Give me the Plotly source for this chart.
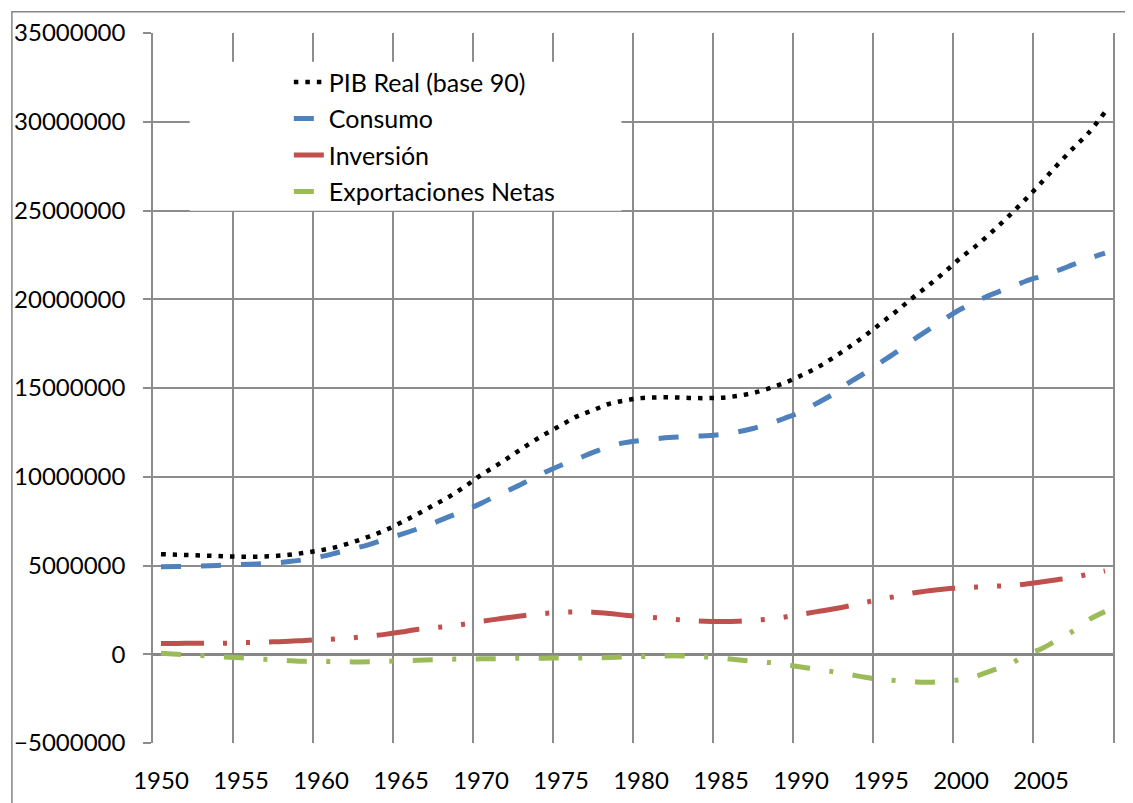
import plotly.graph_objects as go

# years on the category-style x axis
years = list(range(1950, 2010))

# values, in millions
pib_real = [5.64, 5.61, 5.58, 5.55, 5.52, 5.50, 5.50, 5.53, 5.60, 5.72,
            5.86, 6.05, 6.32, 6.63, 6.98, 7.42, 7.88, 8.38, 8.87, 9.45,
            10.10, 10.65, 11.25, 11.85, 12.40, 12.90, 13.40, 13.75, 14.10, 14.30,
            14.43, 14.47, 14.47, 14.44, 14.43, 14.45, 14.55, 14.72, 14.98, 15.30,
            15.70, 16.15, 16.70, 17.30, 17.95, 18.65, 19.35, 20.10, 20.80, 21.55,
            22.35, 23.05, 23.85, 24.70, 25.60, 26.55, 27.55, 28.50, 29.40, 30.55]
consumo = [4.93, 4.94, 4.96, 4.99, 5.02, 5.05, 5.09, 5.14, 5.22, 5.34,
           5.50, 5.72, 5.95, 6.18, 6.48, 6.75, 7.05, 7.38, 7.75, 8.10,
           8.50, 8.95, 9.35, 9.80, 10.25, 10.65, 11.00, 11.37, 11.70, 11.92,
           12.05, 12.15, 12.22, 12.27, 12.31, 12.38, 12.52, 12.72, 12.98, 13.30,
           13.65, 14.15, 14.65, 15.30, 15.85, 16.45, 17.05, 17.70, 18.30, 18.90,
           19.45, 19.90, 20.30, 20.65, 21.00, 21.30, 21.60, 21.95, 22.30, 22.60]
inversion = [0.60, 0.61, 0.62, 0.62, 0.62, 0.65, 0.67, 0.70, 0.73, 0.78,
             0.82, 0.87, 0.93, 1.02, 1.12, 1.25, 1.40, 1.49, 1.58, 1.70,
             1.85, 1.98, 2.10, 2.22, 2.30, 2.36, 2.39, 2.37, 2.30, 2.20,
             2.12, 2.06, 1.97, 1.90, 1.86, 1.85, 1.86, 1.92, 1.98, 2.10,
             2.25, 2.40, 2.55, 2.72, 2.92, 3.10, 3.27, 3.45, 3.58, 3.68,
             3.74, 3.79, 3.83, 3.87, 3.95, 4.07, 4.20, 4.33, 4.52, 4.70]
export_netas = [0.05, 0.00, -0.05, -0.10, -0.15, -0.20, -0.26, -0.31, -0.36, -0.40,
                -0.41, -0.42, -0.43, -0.42, -0.40, -0.37, -0.34, -0.31, -0.28, -0.27,
                -0.26, -0.25, -0.23, -0.23, -0.22, -0.21, -0.21, -0.20, -0.18, -0.15,
                -0.13, -0.10, -0.09, -0.10, -0.15, -0.22, -0.31, -0.40, -0.47, -0.58,
                -0.72, -0.86, -0.98, -1.13, -1.30, -1.42, -1.49, -1.55, -1.58, -1.50,
                -1.43, -1.22, -0.90, -0.60, -0.05, 0.30, 0.80, 1.30, 1.95, 2.40]

series_names = ["PIB Real (base 90)", "Consumo", "Inversión", "Exportaciones Netas"]
x_labels = [str(y) for y in range(1950, 2010, 5)]

FONT = "Lato"
GRID = "#8c8c8c"

styles = [
    dict(color="black", width=4.5, dash="4.5px,7px"),
    dict(color="#4F81BD", width=5, dash="20px,20px"),
    dict(color="#C0504D", width=5, dash="43px,19px,4px,19px,4px,19px"),
    dict(color="#9BBB59", width=5, dash="20px,19.5px,4px,19.5px"),
]

fig = go.Figure()
for i, (name, vals) in enumerate(zip(series_names, [pib_real, consumo, inversion, export_netas])):
    fig.add_trace(go.Scatter(
        x=years, y=[v * 1e6 for v in vals],
        mode="lines", name=name, line=dict(shape="spline", **styles[i]),
        legendgroup=f"g{i}",
    ))

# the page body adds ~8px offset, margins compensate for it
fig.update_layout(
    width=1133, height=803,
    margin=dict(l=145, r=28, t=25, b=68),
    paper_bgcolor="white", plot_bgcolor="white",
    font=dict(family=FONT, size=24, color="black"),
    showlegend=True,
    legend=dict(x=0.1415, y=0.963, xanchor="left", yanchor="top",
                bgcolor="rgba(0,0,0,0)", traceorder="grouped", tracegroupgap=1,
                font=dict(family=FONT, size=25, color="black")),
    shapes=[
        # outer chart frame (cut off on the right and bottom)
        dict(type="rect", xref="paper", yref="paper", x0=-0.147, x1=1.2, y0=-0.3, y1=1.03,
             line=dict(color="#868686", width=1.5), fillcolor="rgba(0,0,0,0)", layer="below"),
        # white legend box
        dict(type="rect", xref="paper", yref="paper", x0=0.0382, x1=0.488, y0=0.7496, y1=0.9595,
             line=dict(width=0), fillcolor="white", layer="above"),
    ],
)

fig.update_xaxes(
    range=[1949.5, 2009.5], automargin=False,
    tickmode="array", tickvals=list(range(1950, 2010, 5)), ticktext=x_labels,
    showgrid=False, ticks="", zeroline=False, showline=False,
    ticklabelstandoff=21,
    minor=dict(tickmode="array", tickvals=[y - 0.5 for y in range(1950, 2011, 5)],
               showgrid=True, gridcolor=GRID, gridwidth=1.5, ticks=""),
)
fig.update_yaxes(
    range=[-5e6, 35e6], dtick=5e6, tick0=0, tickformat="d", automargin=False,
    showgrid=True, gridcolor=GRID, gridwidth=1.5,
    zeroline=True, zerolinecolor="#868686", zerolinewidth=3,
    showline=True, linecolor=GRID, linewidth=1.5, mirror=True,
    ticks="outside", ticklen=8, tickcolor=GRID, tickwidth=1.5,
    ticklabelstandoff=13,
)

fig.write_html("out.html")
